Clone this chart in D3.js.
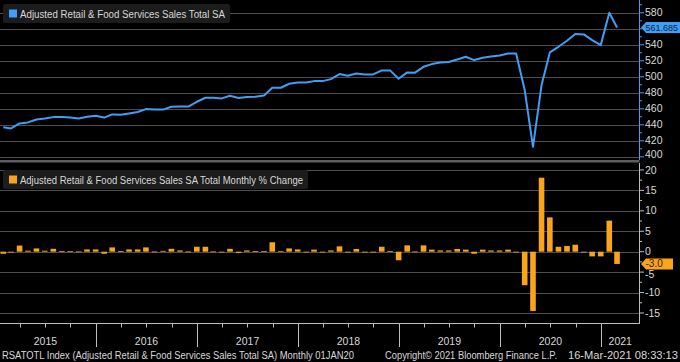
<!DOCTYPE html>
<html><head><meta charset="utf-8">
<script src="https://cdn.jsdelivr.net/npm/d3@7"></script>
<style>html,body{margin:0;padding:0;background:#000;}svg{display:block;}</style>
</head><body>
<script>
// ---- data ----
const startMonth = "2015-01"; // first monthly observation (month-end dated)
const salesTotal = [
 436.8,435.5,441.7,443.0,446.7,448.0,449.6,449.6,449.0,448.0,450.0,451.3,
 449.0,453.0,452.5,454.2,456.0,459.6,459.0,459.0,462.5,462.8,462.8,468.8,
 473.8,473.8,473.0,476.3,473.6,474.8,475.0,476.7,486.3,486.3,491.3,493.0,
 493.0,494.6,494.6,497.1,503.4,501.3,504.2,503.0,503.0,508.0,508.0,497.5,
 505.5,505.2,512.5,515.9,518.0,518.4,521.7,525.0,520.9,523.8,525.5,526.7,
 529.2,529.2,483.4,412.5,489.6,530.5,537.5,545.0,553.4,553.0,545.9,539.6,
 580.0,561.685];
const monthlyChange = [
 -0.5,-0.2,1.5,0.25,0.8,0.25,0.7,0.15,0.1,0.05,0.55,0.55,
 -0.5,1.05,0.15,0.55,0.55,1.05,0.05,0.2,0.7,0.3,0.05,1.2,
 1.2,0.05,-0.05,0.7,-0.3,0.3,0.15,0.15,2.3,0.1,0.8,0.55,
 0.0,0.5,0.0,0.3,1.3,-0.1,0.65,0.0,0.0,1.2,0.15,-2.1,
 1.55,0.05,1.55,0.5,0.3,0.3,0.65,0.5,-0.5,0.5,0.3,0.3,
 0.5,-0.1,-8.2,-14.5,18.1,8.4,1.2,1.4,1.7,-0.1,-1.15,-1.15,
 7.6,-3.0];
const topTicks = [400,420,440,460,480,500,520,540,560,580];
const botTicks = [-15,-10,-5,0,5,10,15,20];
const yearLabels = ["2015","2016","2017","2018","2019","2020","2021"];
const lastSales = "561.685";
const lastChange = "-3.0";
const legendTop = "Adjusted Retail & Food Services Sales Total SA";
const legendBot = "Adjusted Retail & Food Services Sales SA Total Monthly % Change";
const footer1 = "RSATOTL Index (Adjusted Retail & Food Services Sales Total SA)  Monthly 01JAN20";
const footer2 = "Copyright\u00A9 2021 Bloomberg Finance L.P.";
const footer3 = "16-Mar-2021 08:33:13";

// ---- setup ----
const W = 680, H = 362;
const BLUE = "#3f9ef5", ORANGE = "#f9a51c", GRID = "#4d4d4d", TXT = "#d8d8d8";
const FONT = "'Liberation Sans', Arial, sans-serif";
const parse = d3.timeParse("%Y-%m");
const first = parse(startMonth);
const dates = salesTotal.map((_, i) => new Date(first.getFullYear(), first.getMonth() + i + 1, 0));

const svg = d3.select("body").append("svg").attr("width", W).attr("height", H)
  .style("background", "#000").attr("font-family", FONT);

const AX = 639.5;
const x = d3.scaleTime().domain([new Date(2015,0,1), new Date(2021,0,1)]).range([-5, 601]);
const yT = d3.scaleLinear().domain([396, 596]).range([160, 0]);
const yB = d3.scaleLinear().domain([-17.45, 21.7]).range([323, 163]);

// grid
svg.append("g").selectAll("line").data(topTicks).join("line")
  .attr("x1", 0).attr("x2", AX).attr("y1", d => Math.round(yT(d)) + 0.5).attr("y2", d => Math.round(yT(d)) + 0.5)
  .attr("stroke", GRID);
svg.append("g").selectAll("line").data(botTicks).join("line")
  .attr("x1", 0).attr("x2", AX).attr("y1", d => Math.round(yB(d)) + 0.5).attr("y2", d => Math.round(yB(d)) + 0.5)
  .attr("stroke", GRID);

// separator
svg.append("rect").attr("x", 0).attr("y", 160).attr("width", AX).attr("height", 2.5).attr("fill", "#5e5e5e");

// top line
svg.append("path").datum(salesTotal)
  .attr("d", d3.line().x((d, i) => x(dates[i])).y(d => yT(d)))
  .attr("fill", "none").attr("stroke", BLUE).attr("stroke-width", 2).attr("stroke-linejoin", "round");

// bars
const bw = 5.6;
svg.append("g").selectAll("rect").data(monthlyChange).join("rect")
  .attr("x", (d, i) => x(dates[i]) - bw / 2)
  .attr("width", bw)
  .attr("y", d => yB(Math.max(0, d)))
  .attr("height", d => Math.max(0.8, Math.abs(yB(d) - yB(0))))
  .attr("fill", ORANGE);

// right axes
function rightAxis(scale, ticks, y0, y1, color, minorStep, hidden, shift) {
  const g = svg.append("g");
  g.append("line").attr("x1", AX).attr("x2", AX).attr("y1", y0).attr("y2", y1).attr("stroke", color);
  const minors = d3.range(ticks[0] - minorStep, ticks[ticks.length-1] + minorStep + 0.001, minorStep)
    .filter(v => scale(v) > y0 + 1 && scale(v) < y1 - 1 && !ticks.includes(v));
  g.selectAll(".mi").data(minors).join("line")
    .attr("x1", AX).attr("x2", AX + 2.5).attr("y1", d => scale(d)).attr("y2", d => scale(d)).attr("stroke", color);
  g.selectAll(".ma").data(ticks).join("line")
    .attr("x1", AX).attr("x2", AX + 4.5).attr("y1", d => scale(d)).attr("y2", d => scale(d)).attr("stroke", color);
  g.selectAll("text").data(ticks.filter(t => t !== hidden)).join("text")
    .attr("x", 645).attr("y", d => Math.min(scale(d) + (shift[d] || 0), y1 - 5.5) + 3.6)
    .attr("font-size", 10.5).attr("fill", TXT).text(d => d);
}
rightAxis(yT, topTicks, 0, 160, BLUE, 10, 560, {});
rightAxis(yB, botTicks, 163, 323, "#bdbdbd", 2.5, null, {"-5": 2.6});

// x axis
svg.append("line").attr("x1", 0).attr("x2", AX).attr("y1", 323.5).attr("y2", 323.5).attr("stroke", "#bdbdbd");
svg.append("line").attr("x1", AX).attr("x2", AX).attr("y1", 318).attr("y2", 324).attr("stroke", "#bdbdbd");
const quarters = d3.timeMonth.every(3).range(new Date(2015,0,1), new Date(2021,3,1));
svg.append("g").selectAll("line").data(quarters.filter(d => x(d) > 0 && x(d) < AX)).join("line")
  .attr("x1", d => Math.round(x(d)) + 0.5).attr("x2", d => Math.round(x(d)) + 0.5)
  .attr("y1", 323.5).attr("y2", d => d.getMonth() === 0 ? 347 : 327.5)
  .attr("stroke", "#bdbdbd");
svg.append("g").selectAll("text").data(yearLabels).join("text")
  .attr("x", d => {
    const a = x(new Date(+d, 0, 1)), b = Math.min(AX, x(new Date(+d + 1, 0, 1)));
    return (a + b) / 2;
  })
  .attr("y", 345).attr("text-anchor", "middle").attr("font-size", 10.5).attr("fill", TXT).text(d => d);

// value flags
function flag(yc, fill, label, tcol, xr, fs) {
  const g = svg.append("g");
  g.append("path").attr("d", `M641,${yc} L646,${yc-5.5} L${xr},${yc-5.5} L${xr},${yc+5.5} L646,${yc+5.5} Z`).attr("fill", fill);
  g.append("text").attr("x", 645.5).attr("y", yc + 3.4).attr("font-size", fs).attr("fill", tcol).text(label);
}
flag(yT(+lastSales), BLUE, lastSales, "#0b2440", 680, 9);
flag(yB(+lastChange), ORANGE, lastChange, "#3a2000", 673, 10);

// legends
function legend(y0, w, color, label) {
  const g = svg.append("g");
  g.append("rect").attr("x", 3).attr("y", y0).attr("width", w).attr("height", 19).attr("rx", 2).attr("fill", "#1c1c1c");
  g.append("rect").attr("x", 9).attr("y", y0 + 5.5).attr("width", 8).attr("height", 8).attr("fill", color);
  g.append("text").attr("x", 20).attr("y", y0 + 13.5).attr("font-size", 10).attr("fill", TXT)
    .attr("textLength", w - 22).attr("lengthAdjust", "spacingAndGlyphs").text(label);
}
legend(4, 227, BLUE, legendTop);
legend(170, 305, ORANGE, legendBot);

// footer
const fy = 359;
svg.append("text").attr("x", 2).attr("y", fy).attr("font-size", 10).attr("fill", TXT)
  .attr("textLength", 352).attr("lengthAdjust", "spacingAndGlyphs").text(footer1);
svg.append("text").attr("x", 385).attr("y", fy).attr("font-size", 10).attr("fill", TXT)
  .attr("textLength", 172).attr("lengthAdjust", "spacingAndGlyphs").text(footer2);
svg.append("text").attr("x", 568).attr("y", fy).attr("font-size", 10).attr("fill", TXT)
  .attr("textLength", 110).attr("lengthAdjust", "spacingAndGlyphs").text(footer3);
</script>
</body></html>
